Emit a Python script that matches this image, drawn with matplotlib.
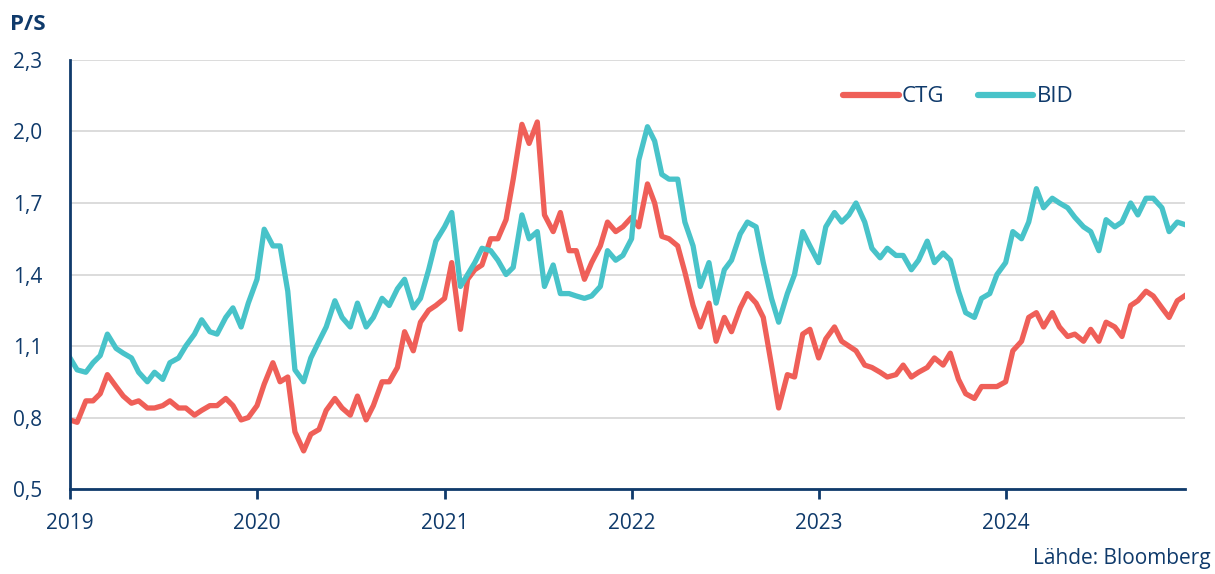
import matplotlib
matplotlib.use("Agg")
import matplotlib.pyplot as plt
import matplotlib.dates as mdates
from matplotlib.ticker import FixedLocator, FuncFormatter
import pandas as pd

# puolikuukausittaiset havainnot 1.1.2019 - 15.12.2024
dates = pd.date_range("2019-01-01", periods=144, freq="SMS")

ctg = [
    # 2019
    0.79, 0.78, 0.87, 0.87, 0.90, 0.98, 0.93, 0.89, 0.86, 0.87, 0.84, 0.84,
    0.85, 0.87, 0.84, 0.84, 0.81, 0.83, 0.85, 0.85, 0.88, 0.85, 0.79, 0.80,
    # 2020
    0.85, 0.94, 1.03, 0.95, 0.97, 0.74, 0.66, 0.73, 0.75, 0.83, 0.88, 0.84,
    0.81, 0.89, 0.79, 0.85, 0.95, 0.95, 1.01, 1.16, 1.08, 1.20, 1.25, 1.27,
    # 2021
    1.30, 1.45, 1.17, 1.38, 1.42, 1.44, 1.55, 1.55, 1.63, 1.80, 2.03, 1.95,
    2.04, 1.65, 1.58, 1.66, 1.50, 1.50, 1.38, 1.45, 1.52, 1.62, 1.58, 1.60,
    # 2022
    1.64, 1.60, 1.78, 1.70, 1.56, 1.55, 1.52, 1.41, 1.27, 1.18, 1.28, 1.12,
    1.22, 1.16, 1.26, 1.32, 1.28, 1.22, 1.02, 0.84, 0.98, 0.97, 1.15, 1.17,
    # 2023
    1.05, 1.13, 1.18, 1.12, 1.10, 1.08, 1.02, 1.01, 0.99, 0.97, 0.98, 1.02,
    0.97, 0.99, 1.01, 1.05, 1.02, 1.07, 0.96, 0.90, 0.88, 0.93, 0.93, 0.93,
    # 2024
    0.95, 1.08, 1.12, 1.22, 1.24, 1.18, 1.24, 1.18, 1.14, 1.15, 1.12, 1.17,
    1.12, 1.20, 1.18, 1.14, 1.27, 1.29, 1.33, 1.31, 1.26, 1.22, 1.29, 1.31,
]

bid = [
    # 2019
    1.05, 1.00, 0.99, 1.03, 1.06, 1.15, 1.09, 1.07, 1.05, 0.99, 0.95, 0.99,
    0.96, 1.03, 1.05, 1.10, 1.15, 1.21, 1.16, 1.15, 1.22, 1.26, 1.18, 1.28,
    # 2020
    1.38, 1.59, 1.52, 1.52, 1.33, 1.00, 0.95, 1.05, 1.12, 1.18, 1.29, 1.22,
    1.18, 1.28, 1.18, 1.22, 1.30, 1.27, 1.34, 1.38, 1.26, 1.30, 1.42, 1.54,
    # 2021
    1.60, 1.66, 1.35, 1.40, 1.45, 1.51, 1.50, 1.46, 1.40, 1.43, 1.65, 1.55,
    1.58, 1.35, 1.44, 1.32, 1.32, 1.31, 1.30, 1.31, 1.35, 1.50, 1.46, 1.48,
    # 2022
    1.55, 1.88, 2.02, 1.96, 1.82, 1.80, 1.80, 1.62, 1.52, 1.35, 1.45, 1.28,
    1.42, 1.46, 1.57, 1.62, 1.60, 1.45, 1.30, 1.20, 1.32, 1.40, 1.58, 1.52,
    # 2023
    1.45, 1.60, 1.66, 1.62, 1.65, 1.70, 1.62, 1.51, 1.47, 1.51, 1.48, 1.48,
    1.42, 1.46, 1.54, 1.45, 1.49, 1.46, 1.33, 1.24, 1.22, 1.30, 1.32, 1.40,
    # 2024
    1.45, 1.58, 1.55, 1.62, 1.76, 1.68, 1.72, 1.70, 1.68, 1.64, 1.60, 1.58,
    1.50, 1.63, 1.60, 1.62, 1.70, 1.65, 1.72, 1.72, 1.68, 1.58, 1.62, 1.61,
]

y_ticks = [0.5, 0.8, 1.1, 1.4, 1.7, 2.0, 2.3]

NAVY = "#0f3a6b"
RED = "#ef5f58"
TEAL = "#48c3c9"

plt.rcParams["font.family"] = ["Open Sans", "DejaVu Sans"]

fig = plt.figure(figsize=(12.15, 5.74), dpi=100)
ax = fig.add_axes([0.0576, 0.148, 0.9177, 0.7475])

ax.plot(dates, ctg, color=RED, linewidth=3.8, label="CTG", solid_joinstyle="round")
ax.plot(dates, bid, color=TEAL, linewidth=3.8, label="BID", solid_joinstyle="round")

ax.set_ylim(0.5, 2.3)
ax.set_xlim(pd.Timestamp("2019-01-01"), pd.Timestamp("2024-12-16"))
ax.yaxis.set_major_locator(FixedLocator(y_ticks))
ax.yaxis.set_major_formatter(FuncFormatter(lambda v, p: f"{v:.1f}".replace(".", ",")))
ax.xaxis.set_major_locator(mdates.YearLocator())
ax.xaxis.set_major_formatter(mdates.DateFormatter("%Y"))

ax.grid(axis="y", color="#d9d9d9", linewidth=1.3)
ax.set_axisbelow(True)
for side in ["top", "right"]:
    ax.spines[side].set_visible(False)
for side in ["left", "bottom"]:
    ax.spines[side].set_color(NAVY)
    ax.spines[side].set_linewidth(2)

ax.tick_params(axis="y", length=0, pad=20, labelsize=15, labelcolor=NAVY)
ax.tick_params(axis="x", length=7, width=2, color=NAVY, pad=10,
               labelsize=15, labelcolor=NAVY)

fig.text(0.008, 0.958, "P/S", fontsize=16, fontweight="bold", color=NAVY,
         va="center", ha="left")
fig.text(0.996, 0.008, "Lähde: Bloomberg", fontsize=15, color=NAVY,
         ha="right", va="bottom")

leg = ax.legend(loc="upper right", bbox_to_anchor=(0.918, 0.985), ncol=2,
                frameon=False, fontsize=16, handlelength=2.5,
                handletextpad=0.15, columnspacing=1.5)
for t in leg.get_texts():
    t.set_color(NAVY)
for h in leg.get_lines():
    h.set_linewidth(4.5)
    h.set_solid_capstyle("round")

fig.savefig("out.png", dpi=100)
